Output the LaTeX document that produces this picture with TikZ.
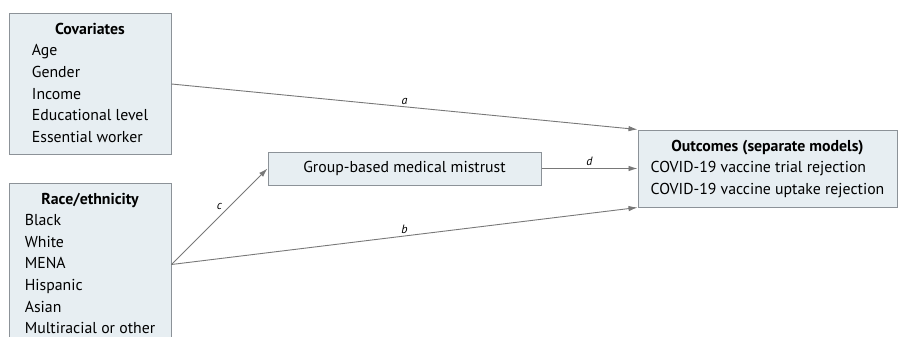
\documentclass[tikz,border=0pt]{standalone}
\usepackage{fontspec}
\setmainfont{PT Sans}
\usetikzlibrary{arrows.meta}
\definecolor{boiteFond}{RGB}{231,238,242}
\definecolor{boiteBord}{RGB}{140,146,152}
\definecolor{flecheGris}{RGB}{120,120,120}
\tikzstyle{boite} = [draw=boiteBord, fill=boiteFond, rectangle, inner sep=0pt, line width=1pt, font=\fontsize{15.8}{21.6}\selectfont]
\tikzstyle{fleche} = [->, draw=flecheGris, line width=0.9pt]
\tikzstyle{lettre} = [font=\fontsize{12}{12}\selectfont\itshape, inner sep=2pt]

\begin{document}
\begin{tikzpicture}[x=1pt, y=-1pt, >={Latex[length=9pt, width=5.5pt]}]
    \clip (0,0) rectangle (899,337);
    \path[use as bounding box] (0,0) rectangle (899,337);
    \node [boite, minimum width=162pt, minimum height=140pt] (covar) at (90,84)
      {\begin{tabular}{@{}l@{}}\multicolumn{1}{@{}c@{}}{\bfseries Covariates}\\ Age\\ Gender\\ Income\\ Educational level\\ Essential worker\end{tabular}};
    \node [boite, minimum width=162pt, minimum height=163pt] (race) at (90,264.5)
      {\begin{tabular}{@{}l@{}}\multicolumn{1}{@{}c@{}}{\bfseries Race/ethnicity}\\ Black\\ White\\ MENA\\ Hispanic\\ Asian\\ Multiracial or other\end{tabular}};
    \node [boite, minimum width=273pt, minimum height=33pt] (mistrust) at (404.5,168.5)
      {Group-based medical mistrust};
    \node [boite, minimum width=259pt, minimum height=77pt] (outcome) at (767.5,168.5)
      {\begin{tabular}{@{}l@{}}\multicolumn{1}{@{}c@{}}{\bfseries Outcomes (separate models)}\\ COVID-19 vaccine trial rejection\\ COVID-19 vaccine uptake rejection\end{tabular}};

    \path[every edge/.append style=fleche]
     (covar.east) edge node[lettre, midway, above] {a} (outcome.north west)
     (race.east) edge node[lettre, midway, above] {b} (outcome.south west)
     (race.east) edge node[lettre, midway, above=4pt] {c} (mistrust.west)
     (mistrust.east) edge node[lettre, midway, above] {d} (outcome.west);
\end{tikzpicture}
\end{document}
